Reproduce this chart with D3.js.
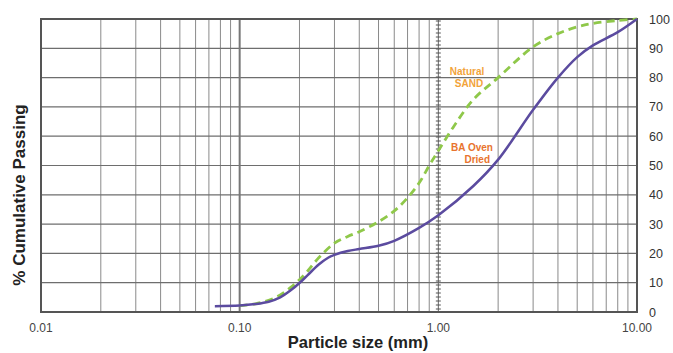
<!DOCTYPE html>
<html>
<head>
<meta charset="utf-8">
<script src="https://cdn.jsdelivr.net/npm/d3@7"></script>
<style>
  body { margin: 0; background: #fff; }
  text { font-family: Arial, "Liberation Sans", sans-serif; }
</style>
</head>
<body>
<script>
// particle size (mm) and % passing
const baSize = [0.075, 0.1, 0.12, 0.14, 0.16, 0.18, 0.2, 0.22, 0.25, 0.28, 0.3, 0.35, 0.4, 0.5, 0.6, 0.8, 1.0, 1.5, 2, 3, 4, 5, 6, 8, 10];
const baPass = [2, 2.2, 2.7, 3.5, 5, 7.3, 9.9, 12.6, 16.2, 18.6, 19.5, 20.8, 21.5, 22.6, 24.3, 28.7, 33, 43, 52, 69, 80, 87, 91, 95.5, 100];
const sandSize = [0.1, 0.12, 0.14, 0.16, 0.18, 0.2, 0.22, 0.25, 0.3, 0.35, 0.4, 0.5, 0.6, 0.7, 0.8, 0.9, 1.0, 1.2, 1.5, 2, 3, 4, 5, 6, 8, 10];
const sandPass = [2.2, 2.8, 4, 5.8, 8.3, 11, 14, 18.5, 23.5, 25.8, 27.4, 30.8, 34.5, 39, 44, 50, 55, 63.5, 72.5, 80, 90.5, 95, 97.3, 98.5, 99.5, 100];
const xTickLabels = ["0.01", "0.10", "1.00", "10.00"];
const yTicks = [0, 10, 20, 30, 40, 50, 60, 70, 80, 90, 100];

const W = 673, H = 353;
const m = { left: 41, right: 36, top: 19, bottom: 41 };

const svg = d3.select('body').append('svg')
    .attr('width', W)
    .attr('height', H);

const x = d3.scaleLog().domain([0.01, 10]).range([m.left, W - m.right]);
const y = d3.scaleLinear().domain([0, 100]).range([H - m.bottom, m.top]);

// minor log grid
const minor = [];
[0.01, 0.1, 1].forEach(d => { for (let k = 2; k <= 9; k++) minor.push(d * k); });
svg.append('g').selectAll('line')
    .data(minor)
    .enter().append('line')
    .attr('x1', d => x(d)).attr('x2', d => x(d))
    .attr('y1', y(0)).attr('y2', y(100))
    .attr('stroke', '#8a8a8a').attr('stroke-width', 1);

// horizontal grid
svg.append('g').selectAll('line')
    .data(yTicks)
    .enter().append('line')
    .attr('x1', x(0.01)).attr('x2', x(10))
    .attr('y1', d => y(d)).attr('y2', d => y(d))
    .attr('stroke', '#6e6e6e').attr('stroke-width', 1.2);

// decade line at 0.10
svg.append('line')
    .attr('x1', x(0.1)).attr('x2', x(0.1))
    .attr('y1', y(0)).attr('y2', y(100))
    .attr('stroke', '#777').attr('stroke-width', 2);

// hatched line at 1.00
svg.append('line')
    .attr('x1', x(1)).attr('x2', x(1))
    .attr('y1', y(0)).attr('y2', y(100))
    .attr('stroke', '#666').attr('stroke-width', 1);
svg.append('g').selectAll('line')
    .data(d3.range(y(100) + 2, y(0), 4))
    .enter().append('line')
    .attr('x1', x(1) - 2.5).attr('x2', x(1) + 2.5)
    .attr('y1', d => d).attr('y2', d => d)
    .attr('stroke', '#555').attr('stroke-width', 1);

// frame
svg.append('rect')
    .attr('x', x(0.01)).attr('y', y(100))
    .attr('width', x(10) - x(0.01)).attr('height', y(0) - y(100))
    .attr('fill', 'none').attr('stroke', '#555').attr('stroke-width', 2);

// axis labels
svg.append('g').selectAll('text')
    .data(yTicks)
    .enter().append('text')
    .attr('x', x(10) + 12).attr('y', d => y(d) + 4.5)
    .attr('font-size', 12.5).attr('fill', '#333')
    .text(d => d);

svg.append('g').selectAll('text')
    .data(xTickLabels)
    .enter().append('text')
    .attr('x', d => x(+d)).attr('y', y(0) + 20)
    .attr('text-anchor', 'middle')
    .attr('font-size', 12).attr('fill', '#444')
    .text(d => d);

svg.append('text')
    .attr('x', 358).attr('y', 348)
    .attr('text-anchor', 'middle')
    .attr('font-size', 16.5).attr('font-weight', 'bold').attr('fill', '#222')
    .text('Particle size (mm)');

svg.append('text')
    .attr('transform', `translate(25,195) rotate(-90)`)
    .attr('text-anchor', 'middle')
    .attr('font-size', 17).attr('font-weight', 'bold').attr('fill', '#222')
    .text('% Cumulative Passing');

// curves
const line = d3.line()
    .x(d => x(d[0]))
    .y(d => y(d[1]))
    .curve(d3.curveCatmullRom.alpha(0.5));

svg.append('path')
    .datum(d3.zip(sandSize, sandPass))
    .attr('d', line)
    .attr('fill', 'none')
    .attr('stroke', '#8fc84a')
    .attr('stroke-width', 2.8)
    .attr('stroke-dasharray', '8,5');

svg.append('path')
    .datum(d3.zip(baSize, baPass))
    .attr('d', line)
    .attr('fill', 'none')
    .attr('stroke', '#5b4b9f')
    .attr('stroke-width', 2.5);

// series labels
const lab = svg.append('g')
    .attr('font-size', 10).attr('font-weight', 'bold');
lab.append('text').attr('x', 467).attr('y', 75).attr('text-anchor', 'middle')
    .attr('fill', '#f2a33a').text('Natural');
lab.append('text').attr('x', 469).attr('y', 87).attr('text-anchor', 'middle')
    .attr('fill', '#f2a33a').text('SAND');
lab.append('text').attr('x', 472).attr('y', 151).attr('text-anchor', 'middle')
    .attr('fill', '#e8742e').text('BA Oven');
lab.append('text').attr('x', 490).attr('y', 163).attr('text-anchor', 'end')
    .attr('fill', '#e8742e').text('Dried');
</script>
</body>
</html>
